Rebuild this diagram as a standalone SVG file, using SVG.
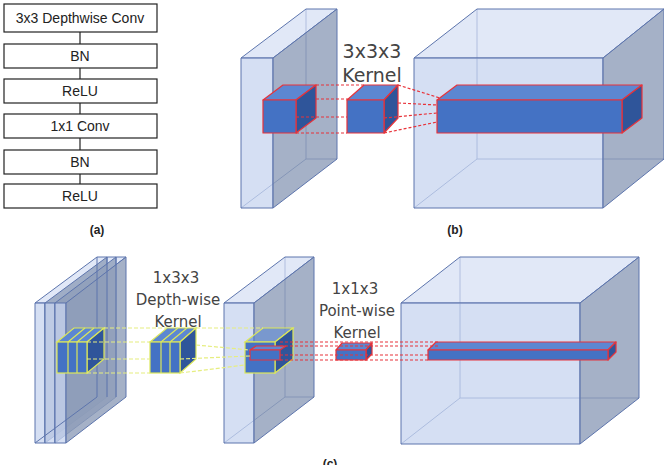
<svg xmlns="http://www.w3.org/2000/svg" width="664" height="465" viewBox="0 0 664 465">
<style>
.box{fill:#fff;stroke:#222;stroke-width:1.2}
.t{font-family:"Liberation Sans",Arial,sans-serif;font-size:14px;fill:#222;text-anchor:middle}
.cap{font-family:"Liberation Sans",Arial,sans-serif;font-size:12px;font-weight:bold;fill:#222;text-anchor:middle}
.lbl{font-family:"DejaVu Sans","Liberation Sans",sans-serif;font-size:19px;fill:#444;text-anchor:middle}
.lbl2{font-family:"DejaVu Sans","Liberation Sans",sans-serif;font-size:15px;fill:#444;text-anchor:middle}
.fr{fill:#c7d4ef;fill-opacity:.75;stroke:#5d75ad;stroke-width:1}
.sd{fill:#8f9db9;fill-opacity:.8;stroke:#5d75ad;stroke-width:1}
.tp{fill:#d4def3;fill-opacity:.7;stroke:#5d75ad;stroke-width:1}
.ln{fill:none;stroke:#5d75ad;stroke-width:1}
.bf{fill:#4472c4}.bt{fill:#5c87d2}.bs{fill:#2f559a}
.r{stroke:#e8333a;stroke-width:1.2;stroke-linejoin:round}
.g{stroke:#dde85a;stroke-width:1.2}
.rd{stroke:#e8333a;stroke-width:1.2;stroke-dasharray:3 2;fill:none}
.gd{stroke:#e6ee80;stroke-width:1.2;stroke-dasharray:4 2;fill:none}
.cn{stroke:#222;stroke-width:1.2}
</style>
<g id="panel-a">
<g id="a1"><rect class="box" x="4" y="4" width="153" height="28"/><text class="t" x="80" y="23">3x3 Depthwise Conv</text></g>
<g id="a2"><rect class="box" x="4" y="44" width="153" height="24"/><text class="t" x="80" y="61">BN</text></g>
<g id="a3"><rect class="box" x="4" y="79" width="153" height="24"/><text class="t" x="80" y="96">ReLU</text></g>
<g id="a4"><rect class="box" x="4" y="114" width="153" height="24"/><text class="t" x="80" y="131">1x1 Conv</text></g>
<g id="a5"><rect class="box" x="4" y="150" width="153" height="24"/><text class="t" x="80" y="167">BN</text></g>
<g id="a6"><rect class="box" x="4" y="184" width="153" height="24"/><text class="t" x="80" y="201">ReLU</text></g>
<g id="a-connectors">
<line class="cn" x1="80" y1="32" x2="80" y2="44"/><line class="cn" x1="80" y1="68" x2="80" y2="79"/>
<line class="cn" x1="80" y1="103" x2="80" y2="114"/><line class="cn" x1="80" y1="138" x2="80" y2="150"/>
<line class="cn" x1="80" y1="174" x2="80" y2="184"/></g>
<text class="cap" x="97" y="234">(a)</text>
</g>
<g id="panel-b">
<g id="b-slab">
<polyline class="ln" points="306,9 306,159 337,159"/><line class="ln" x1="241" y1="208" x2="306" y2="159"/>
<polygon class="tp" points="241,58 306,9 337,9 273,58"/>
<polygon class="fr" points="241,58 273,58 273,208 241,208"/>
<polygon class="sd" points="273,58 337,9 337,159 273,208"/>
</g>
<g id="b-cube">
<polyline class="ln" points="477,9 477,159 664,159"/><line class="ln" x1="414" y1="208" x2="477" y2="159"/>
<polygon class="tp" points="414,58 477,9 664,9 603,58"/>
<polygon class="fr" points="414,58 603,58 603,208 414,208"/>
<polygon class="sd" points="603,58 664,9 664,159 603,208"/>
</g>
<g id="b-kernels">
<g class="r"><polygon class="bt" points="263,100 283,85 316,85 296,100"/><polygon class="bs" points="296,100 316,85 316,118 296,133"/><rect class="bf" x="263" y="100" width="33" height="33"/></g>
<g class="r"><polygon class="bt" points="347,100 364,85 398,85 384,100"/><polygon class="bs" points="384,100 398,85 398,118 384,133"/><rect class="bf" x="347" y="100" width="37" height="33"/></g>
<g class="r"><polygon class="bt" points="437,100 457,85 642,85 622,100"/><polygon class="bs" points="622,100 642,85 642,118 622,133"/><rect class="bf" x="437" y="100" width="185" height="33"/></g>
</g>
<g id="b-connectors">
<line class="rd" x1="316" y1="85" x2="364" y2="85"/><line class="rd" x1="316" y1="99" x2="349" y2="99"/>
<line class="rd" x1="296" y1="117" x2="347" y2="117"/><line class="rd" x1="296" y1="133" x2="347" y2="133"/>
<line class="rd" x1="398" y1="85" x2="440" y2="98"/><line class="rd" x1="398" y1="103" x2="437" y2="105"/>
<line class="rd" x1="384" y1="118" x2="437" y2="113"/><line class="rd" x1="384" y1="133" x2="437" y2="122"/>
</g>
<text class="lbl" x="372" y="58">3x3x3</text><text class="lbl" x="372" y="82">Kernel</text>
<text class="cap" x="455" y="234">(b)</text>
</g>
<g id="panel-c">
<g id="c-stack">
<polygon class="tp" points="35,303 97,257 126,257 66,303"/>
<polygon class="fr" points="35,303 45,303 45,443 35,443"/><polygon class="sd" points="45,303 107,257 107,397 45,443"/>
<polygon class="fr" points="45,303 55,303 55,443 45,443"/><polygon class="sd" points="55,303 116,257 116,397 55,443"/>
<polygon class="fr" points="55,303 66,303 66,443 55,443"/>
<polygon class="sd" points="66,303 126,257 126,397 66,443"/>
<line class="ln" x1="97" y1="257" x2="97" y2="397"/><line class="ln" x1="35" y1="443" x2="97" y2="397"/>
<line class="ln" x1="107" y1="257" x2="107" y2="397"/><line class="ln" x1="116" y1="257" x2="116" y2="397"/>
</g>
<g id="c-slab">
<polyline class="ln" points="285,257 285,397 314,397"/><line class="ln" x1="224" y1="443" x2="285" y2="397"/>
<polygon class="tp" points="224,303 285,257 314,257 254,303"/>
<polygon class="fr" points="224,303 254,303 254,443 224,443"/>
<polygon class="sd" points="254,303 314,257 314,397 254,443"/>
</g>
<g id="c-cube">
<polyline class="ln" points="460,257 460,398 639,398"/><line class="ln" x1="401" y1="444" x2="460" y2="398"/>
<polygon class="tp" points="401,303 460,257 639,257 580,303"/>
<polygon class="fr" points="401,303 580,303 580,444 401,444"/>
<polygon class="sd" points="580,303 639,257 639,398 580,444"/>
</g>
<g id="c-dw-kernels" class="g">
<polygon class="bt" points="57,342 74,328 104,328 87,342"/><polygon class="bs" points="87,342 104,328 104,359 87,373"/>
<rect class="bf" x="57" y="342" width="30" height="31"/>
<line x1="68" y1="342" x2="68" y2="373"/><line x1="77" y1="342" x2="77" y2="373"/>
<line x1="68" y1="342" x2="85" y2="328"/><line x1="77" y1="342" x2="94" y2="328"/>
<polygon class="bt" points="150,342 167,328 196,328 180,342"/><polygon class="bs" points="180,342 196,328 196,359 180,373"/>
<rect class="bf" x="150" y="342" width="30" height="31"/>
<line x1="161" y1="342" x2="161" y2="373"/><line x1="170" y1="342" x2="170" y2="373"/>
<line x1="161" y1="342" x2="178" y2="328"/><line x1="170" y1="342" x2="187" y2="328"/>
<polygon class="bt" points="245,342 263,328 293,328 275,342" fill-opacity=".6"/><polygon class="bs" points="275,342 293,328 293,359 275,373"/>
<rect class="bf" x="245" y="342" width="30" height="31"/>
</g>
<g id="c-pw-kernels" class="r">
<polygon class="bt" points="250,350 256,346 286,346 280,350"/><rect class="bf" x="250" y="350" width="30" height="10"/>
<polygon class="bt" points="336,350 342,343 372,343 366,350"/><polygon class="bs" points="366,350 372,343 372,354 366,360"/><rect class="bf" x="336" y="350" width="30" height="10"/>
<polygon class="bt" points="428,350 436,342 616,342 608,350"/><polygon class="bs" points="608,350 616,342 616,352 608,360"/><rect class="bf" x="428" y="350" width="180" height="10"/>
</g>
<g id="c-connectors">
<line class="gd" x1="104" y1="328" x2="167" y2="328"/><line class="gd" x1="87" y1="342" x2="150" y2="342"/>
<line class="gd" x1="87" y1="359" x2="150" y2="359"/><line class="gd" x1="87" y1="373" x2="150" y2="373"/>
<line class="gd" x1="196" y1="328" x2="263" y2="328"/><line class="gd" x1="196" y1="345" x2="250" y2="350"/>
<line class="gd" x1="180" y1="359" x2="250" y2="356"/><line class="gd" x1="180" y1="373" x2="245" y2="365"/>
<line class="rd" x1="280" y1="342" x2="438" y2="342"/><line class="rd" x1="280" y1="346" x2="438" y2="346"/>
<line class="rd" x1="280" y1="355" x2="428" y2="355"/><line class="rd" x1="280" y1="360" x2="428" y2="360"/>
</g>
<text class="lbl2" x="176" y="283">1x3x3</text><text class="lbl2" x="178" y="305">Depth-wise</text><text class="lbl2" x="178" y="327">Kernel</text>
<text class="lbl2" x="355" y="294">1x1x3</text><text class="lbl2" x="357" y="316">Point-wise</text><text class="lbl2" x="357" y="338">Kernel</text>
<text class="cap" x="330" y="468">(c)</text>
</g>
</svg>
